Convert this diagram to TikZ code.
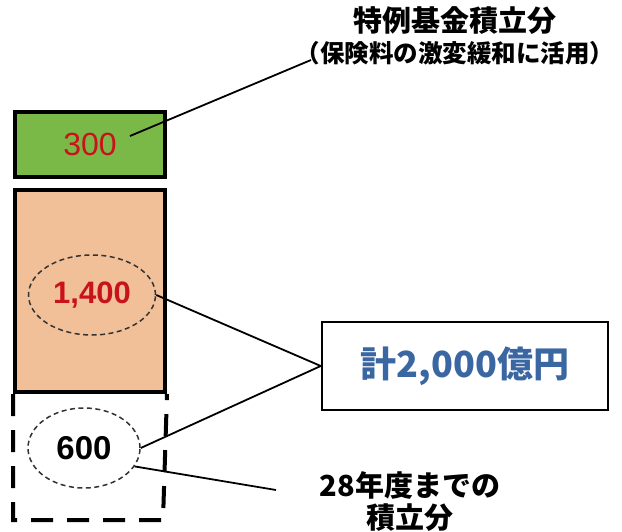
\documentclass[tikz,border=0pt]{standalone}
\usepackage{fontspec}
\setmainfont{Liberation Sans}
\newfontfamily\cjk{Noto Sans CJK JP}
\usetikzlibrary{shapes.geometric}

\definecolor{fundgreen}{RGB}{122,184,72}
\definecolor{peach}{RGB}{241,192,152}
\definecolor{numred}{RGB}{200,18,28}
\definecolor{sumblue}{RGB}{58,102,162}

\begin{document}
\begin{tikzpicture}[x=1pt,y=-1pt,
    bar/.style={draw=black,line width=4pt,minimum width=150pt,inner sep=0pt},
    oval/.style={ellipse,draw=black!80,dash pattern=on 5pt off 3.5pt,line width=1.5pt,inner sep=0pt},
    link/.style={line width=1.8pt},
    note/.style={font=\cjk\bfseries,align=center,inner sep=0pt}]
    \useasboundingbox (0,0) rectangle (622,532);

    % stacked bars
    \node[bar,fill=fundgreen,minimum height=65pt,text=numred,font=\fontsize{32}{32}\selectfont]
        (green) at (90,144.5) {300};
    \node[bar,fill=peach,minimum height=202pt] (peach) at (90,291) {};
    \draw[line width=4pt,dash pattern=on 22pt off 14pt]
        (peach.south west) -- ++(0,126) -- ++(150,0) -- (peach.south east);

    \node[oval,minimum width=127pt,minimum height=80pt,text=numred,font=\fontsize{31}{31}\selectfont\bfseries]
        (e1400) at (92,295) {1,400};
    \node[oval,minimum width=112pt,minimum height=80pt,font=\fontsize{33}{33}\selectfont\bfseries]
        (e600) at (84,448) {600};

    % total
    \node[draw=black,line width=2.5pt,minimum width=286pt,minimum height=88pt,text=sumblue,
        font=\cjk\bfseries\fontsize{36}{36}\selectfont] (total) at (465,366) {計2,000億円};

    % labels
    \node[note,font=\cjk\bfseries\fontsize{29}{32}\selectfont] (fund) at (455,21) {特例基金積立分};
    \node[note,font=\cjk\bfseries\fontsize{24.5}{30}\selectfont] (fundsub) at (455,53) {（保険料の激変緩和に活用）};
    \node[note,font=\cjk\bfseries\fontsize{29}{32}\selectfont] (past) at (410,502) {28年度までの\\積立分};

    \coordinate (gin) at (130,136);
    \coordinate (fundend) at (311,60);
    \coordinate (pastend) at (276,490);

    \draw[link] (gin) -- (fundend);
    \draw[link] (e1400.east) -- (total.west);
    \draw[link] (e600.east) -- (total.west);
    \draw[link] (e600.-20) -- (pastend);
\end{tikzpicture}
\end{document}
